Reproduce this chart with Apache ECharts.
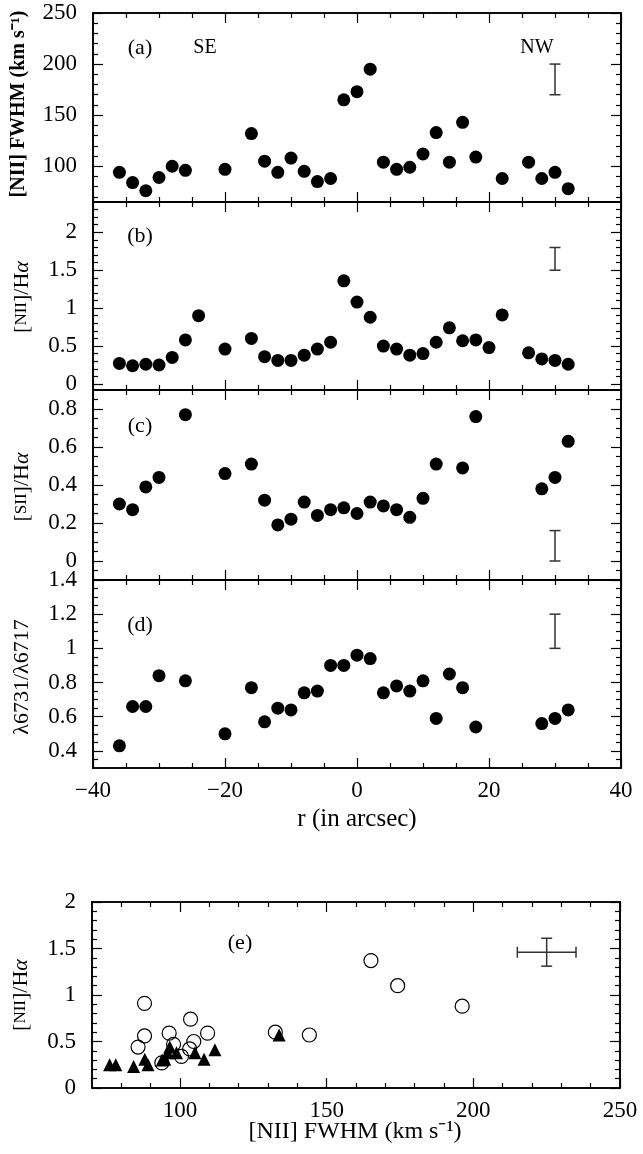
<!DOCTYPE html>
<html><head><meta charset="utf-8">
<script src="https://cdn.jsdelivr.net/npm/echarts@6/dist/echarts.min.js"></script>
<style>html,body{margin:0;padding:0;background:#fff}#c{width:643px;height:1154px}</style>
</head><body><div id="c"></div>
<script>
// ---- data ----
const rA = [-36,-34,-32,-30,-28,-26,-20,-16,-14,-12,-10,-8,-6,-4,-2,0,2,4,6,8,10,12,14,16,18,22,26,28,30,32];
const fwhmA = [94,84,76,89,100,96,97,132,105,94,108,95,85,88,165,173,195,104,97,99,112,133,104,143,109,88,104,88,94,78];
const rB = [-36,-34,-32,-30,-28,-26,-24,-20,-16,-14,-12,-10,-8,-6,-4,-2,0,2,4,6,8,10,12,14,16,18,20,22,26,28,30,32];
const n2haB = [0.27,0.24,0.26,0.25,0.35,0.58,0.90,0.46,0.60,0.36,0.31,0.31,0.38,0.46,0.55,1.36,1.08,0.88,0.50,0.46,0.38,0.40,0.55,0.74,0.57,0.58,0.48,0.91,0.41,0.33,0.31,0.26];
const rC = [-36,-34,-32,-30,-26,-20,-16,-14,-12,-10,-8,-6,-4,-2,0,2,4,6,8,10,12,16,18,28,30,32];
const s2haC = [0.30,0.27,0.39,0.44,0.77,0.46,0.51,0.32,0.19,0.22,0.31,0.24,0.27,0.28,0.25,0.31,0.29,0.27,0.23,0.33,0.51,0.49,0.76,0.38,0.44,0.63];
const rD = [-36,-34,-32,-30,-26,-20,-16,-14,-12,-10,-8,-6,-4,-2,0,2,4,6,8,10,12,14,16,18,28,30,32];
const ratioD = [0.43,0.66,0.66,0.84,0.81,0.50,0.77,0.57,0.65,0.64,0.74,0.75,0.90,0.90,0.96,0.94,0.74,0.78,0.75,0.81,0.59,0.85,0.77,0.54,0.56,0.59,0.64];
const openFwhmE = [87.9,87.9,85.7,96.3,97.8,103.6,104.7,109.4,103.3,100.5,93.8,132.5,144.1,165.1,174.2,196.2];
const openN2haE = [0.91,0.56,0.44,0.59,0.47,0.74,0.50,0.59,0.42,0.34,0.27,0.60,0.57,1.37,1.10,0.88];
const triFwhmE = [76.0,78.1,84.2,88.0,89.1,93.9,94.8,96.5,95.8,98.8,105.1,108.2,111.9,133.8];
const triN2haE = [0.25,0.25,0.23,0.31,0.25,0.30,0.31,0.44,0.38,0.38,0.38,0.31,0.41,0.57];
// error bars: [x, low, high]
const errA = [30,170,200];
const errB = [30,1.5,1.8];
const errC = [30,0,0.16];
const errD = [30,1.0,1.2];
// cross: [x, y, dx, dy]
const errE = [225,1.46,10,0.15];
// ticks
const rTickLabels = [-40,-20,0,20,40];
const rMinorTicks = [-35,-30,-25,-15,-10,-5,5,10,15,25,30,35];
const aTicks = [100,150,200,250];
const aMinor = [70,80,90,110,120,130,140,160,170,180,190,210,220,230,240];
const bTicks = [0,0.5,1,1.5,2];
const bMinor = [0.1,0.2,0.3,0.4,0.6,0.7,0.8,0.9,1.1,1.2,1.3,1.4,1.6,1.7,1.8,1.9,2.1,2.2,2.3];
const cTicks = [0,0.2,0.4,0.6,0.8];
const cMinor = [-0.05,0.05,0.1,0.15,0.25,0.3,0.35,0.45,0.5,0.55,0.65,0.7,0.75,0.85];
const dTicks = [0.4,0.6,0.8,1,1.2,1.4];
const dMinor = [0.35,0.45,0.5,0.55,0.65,0.7,0.75,0.85,0.9,0.95,1.05,1.1,1.15,1.25,1.3,1.35];
const eXTicks = [100,150,200,250];
const eXMinor = [80,90,110,120,130,140,160,170,180,190,210,220,230,240];
const eYTicks = [0,0.5,1,1.5,2];
const eYMinor = [0.1,0.2,0.3,0.4,0.6,0.7,0.8,0.9,1.1,1.2,1.3,1.4,1.6,1.7,1.8,1.9];

const FONT = 'Liberation Serif';
const fmtNum = v => String(v).replace('-', '\u2212');

function axisSet(g, min, max, major, minor, showLabel, pos1, pos2, margin) {
  const base = (pos, vals, len, lab) => ({
    gridIndex: g, type: 'value', min: min, max: max, position: pos,
    axisLine: {show: true, onZero: false, lineStyle: {color: '#000', width: 1.6}},
    axisTick: {show: true, inside: true, length: len, customValues: vals, lineStyle: {color: '#000', width: 1.2}},
    axisLabel: {show: lab, customValues: vals, formatter: fmtNum, fontFamily: FONT, fontSize: 23,
      color: '#000', margin: margin, showMinLabel: true, showMaxLabel: true},
    splitLine: {show: false}
  });
  return [base(pos1, major, 10, showLabel), base(pos1, minor, 5, false),
          base(pos2, major, 10, false), base(pos2, minor, 5, false)];
}

const grids = [
  {left: 93, top: 13, width: 528, height: 189},
  {left: 93, top: 202, width: 528, height: 188},
  {left: 93, top: 390, width: 528, height: 190},
  {left: 93, top: 580, width: 528, height: 188},
  {left: 92, top: 902, width: 528, height: 186}
];

let xAxes = [], yAxes = [];
for (let g = 0; g < 4; g++) {
  xAxes = xAxes.concat(axisSet(g, -40, 40, rTickLabels, rMinorTicks, g === 3, 'bottom', 'top', 11));
}
xAxes = xAxes.concat(axisSet(4, 70, 250, eXTicks, eXMinor, true, 'bottom', 'top', 11));
yAxes = yAxes.concat(axisSet(0, 65, 250, aTicks, aMinor, true, 'left', 'right', 16));
yAxes = yAxes.concat(axisSet(1, -0.08, 2.4, bTicks, bMinor, true, 'left', 'right', 16));
yAxes = yAxes.concat(axisSet(2, -0.1, 0.9, cTicks, cMinor, true, 'left', 'right', 16));
yAxes = yAxes.concat(axisSet(3, 0.3, 1.4, dTicks, dMinor, true, 'left', 'right', 16));
yAxes = yAxes.concat(axisSet(4, 0, 2, eYTicks, eYMinor, true, 'left', 'right', 16));

const zip = (xs, ys) => xs.map((x, i) => [x, ys[i]]);
function dots(g, xs, ys) {
  return {type: 'scatter', xAxisIndex: 4*g, yAxisIndex: 4*g, data: zip(xs, ys),
    symbol: 'circle', symbolSize: 13, itemStyle: {color: '#000', opacity: 1}, silent: true, z: 5};
}
function vbar(g, e) {
  return {type: 'custom', xAxisIndex: 4*g, yAxisIndex: 4*g, data: [e], silent: true, z: 4,
    encode: {x: 0, y: [1, 2]},
    renderItem: (params, api) => {
      const p1 = api.coord([api.value(0), api.value(1)]);
      const p2 = api.coord([api.value(0), api.value(2)]);
      const st = {stroke: '#333', lineWidth: 1.5};
      const c = 5.5;
      return {type: 'group', children: [
        {type: 'line', shape: {x1: p1[0], y1: p1[1], x2: p2[0], y2: p2[1]}, style: st},
        {type: 'line', shape: {x1: p1[0]-c, y1: p1[1], x2: p1[0]+c, y2: p1[1]}, style: st},
        {type: 'line', shape: {x1: p2[0]-c, y1: p2[1], x2: p2[0]+c, y2: p2[1]}, style: st}
      ]};
    }};
}
function cross(g, e) {
  return {type: 'custom', xAxisIndex: 4*g, yAxisIndex: 4*g, data: [e], silent: true, z: 4,
    encode: {x: 0, y: 1},
    renderItem: (params, api) => {
      const x = api.value(0), y = api.value(1), dx = api.value(2), dy = api.value(3);
      const l = api.coord([x-dx, y]), r = api.coord([x+dx, y]);
      const b = api.coord([x, y-dy]), t = api.coord([x, y+dy]);
      const st = {stroke: '#333', lineWidth: 1.5};
      const c = 5.5;
      return {type: 'group', children: [
        {type: 'line', shape: {x1: l[0], y1: l[1], x2: r[0], y2: r[1]}, style: st},
        {type: 'line', shape: {x1: b[0], y1: b[1], x2: t[0], y2: t[1]}, style: st},
        {type: 'line', shape: {x1: l[0], y1: l[1]-c, x2: l[0], y2: l[1]+c}, style: st},
        {type: 'line', shape: {x1: r[0], y1: r[1]-c, x2: r[0], y2: r[1]+c}, style: st},
        {type: 'line', shape: {x1: b[0]-c, y1: b[1], x2: b[0]+c, y2: b[1]}, style: st},
        {type: 'line', shape: {x1: t[0]-c, y1: t[1], x2: t[0]+c, y2: t[1]}, style: st}
      ]};
    }};
}

const series = [
  dots(0, rA, fwhmA), dots(1, rB, n2haB), dots(2, rC, s2haC), dots(3, rD, ratioD),
  vbar(0, errA), vbar(1, errB), vbar(2, errC), vbar(3, errD), cross(4, errE),
  {type: 'scatter', xAxisIndex: 16, yAxisIndex: 16, data: zip(openFwhmE, openN2haE), symbol: 'circle',
   symbolSize: 14, itemStyle: {color: 'rgba(0,0,0,0)', borderColor: '#000', borderWidth: 1.2, opacity: 1}, silent: true, z: 5},
  {type: 'scatter', xAxisIndex: 16, yAxisIndex: 16, data: zip(triFwhmE, triN2haE), symbol: 'triangle',
   symbolSize: 13, itemStyle: {color: '#000', opacity: 1}, silent: true, z: 6}
];

const rich = {
  sc: {fontFamily: FONT, fontSize: 17, fill: '#000'},
  it: {fontFamily: FONT, fontSize: 22, fontStyle: 'italic', fill: '#000'}
};
function txt(x, y, text, size, opts) {
  opts = opts || {};
  return {type: 'text', x: x, y: y, rotation: opts.rot || 0, silent: true,
    style: {text: text, fontFamily: FONT, fontSize: size, fontWeight: opts.bold ? 'bold' : 'normal',
      fill: '#000', align: 'center', verticalAlign: 'middle', rich: rich}};
}
const R = Math.PI / 2;
const graphic = [
  txt(140, 48, '(a)', 22), txt(205, 48, 'SE', 20), txt(537, 48, 'NW', 20),
  txt(140, 236, '(b)', 22), txt(140, 426, '(c)', 22), txt(140, 625, '(d)', 22),
  txt(240, 943, '(e)', 22),
  txt(19, 104, '[NII] FWHM (km s\u207B\u00B9)', 20, {rot: R, bold: true}),
  txt(22, 297, '[{sc|NII}]/H{it|\u03B1}', 22, {rot: R}),
  txt(22, 487, '[{sc|SII}]/H{it|\u03B1}', 22, {rot: R}),
  txt(22, 677, '\u03BB6731/\u03BB6717', 22, {rot: R}),
  txt(21, 995, '[{sc|NII}]/H{it|\u03B1}', 22, {rot: R}),
  txt(357, 819, 'r (in arcsec)', 25),
  txt(355, 1132, '[NII] FWHM (km s\u207B\u00B9)', 24)
];

const chart = echarts.init(document.getElementById('c'), null, {renderer: 'canvas'});
chart.setOption({
  animation: false, backgroundColor: '#fff',
  grid: grids, xAxis: xAxes, yAxis: yAxes, series: series, graphic: graphic
});
</script></body></html>
